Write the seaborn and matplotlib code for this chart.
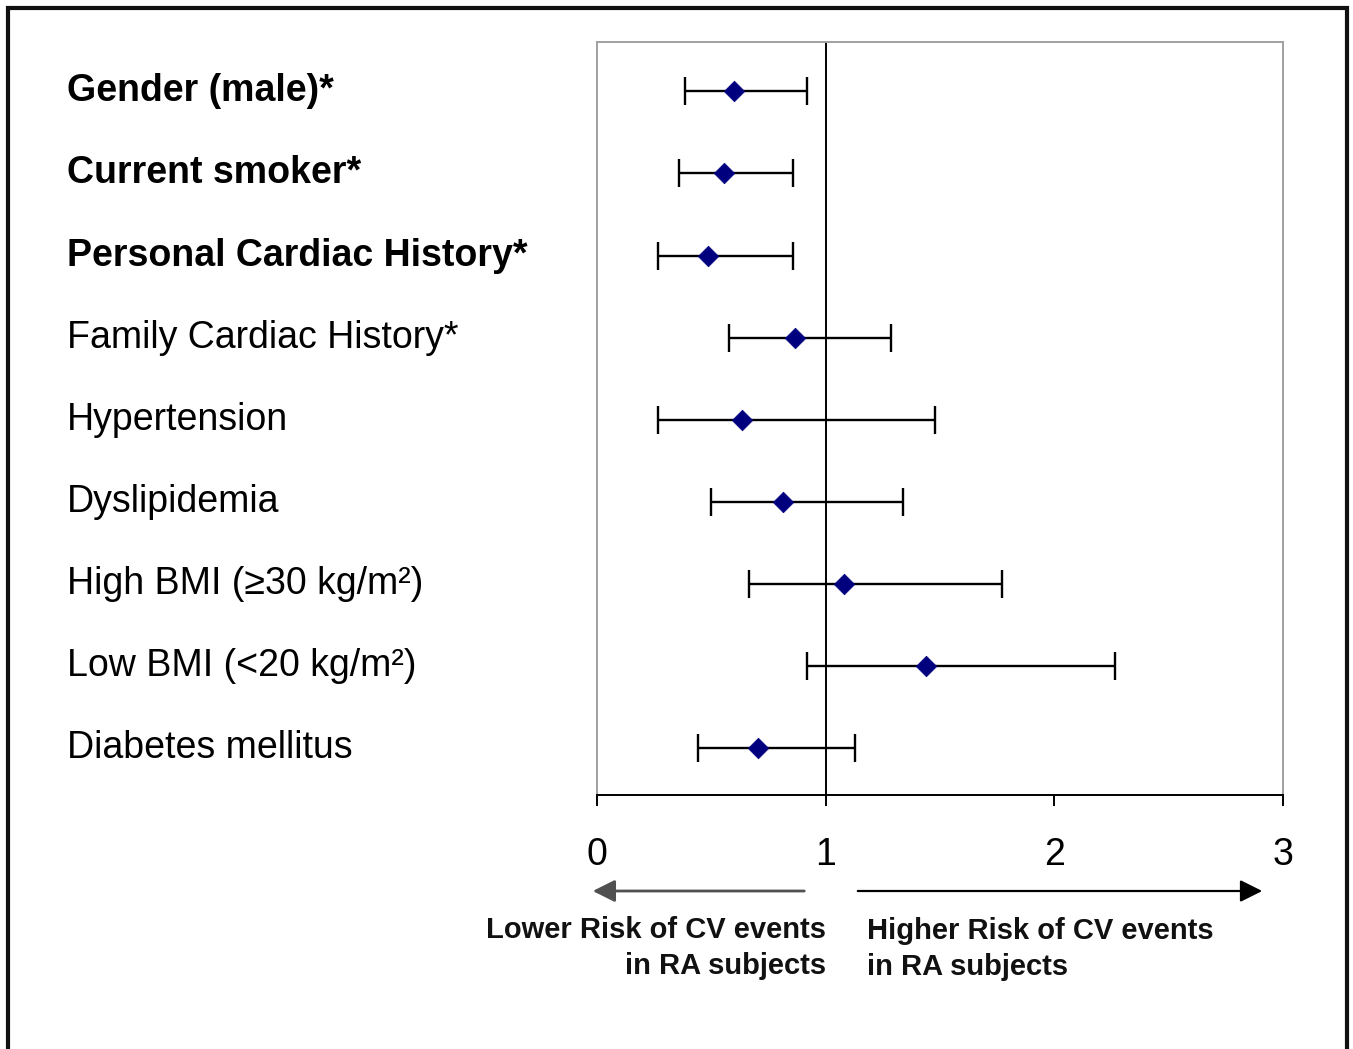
import matplotlib
matplotlib.use("Agg")
import matplotlib.pyplot as plt
import matplotlib.transforms as mtransforms
from matplotlib.patches import Rectangle, FancyArrowPatch
import seaborn as sns
import pandas as pd

# ---- data ----
factors = ["Gender (male)*", "Current smoker*", "Personal Cardiac History*",
           "Family Cardiac History*", "Hypertension", "Dyslipidemia",
           "High BMI (\u226530 kg/m\u00b2)", "Low BMI (<20 kg/m\u00b2)", "Diabetes mellitus"]
bold_flags = [True, True, True, False, False, False, False, False, False]
odds_ratio = [0.60, 0.555, 0.485, 0.866, 0.634, 0.813, 1.08, 1.44, 0.704]
ci_low = [0.385, 0.36, 0.267, 0.577, 0.267, 0.50, 0.665, 0.918, 0.44]
ci_high = [0.92, 0.857, 0.857, 1.286, 1.48, 1.34, 1.77, 2.265, 1.13]
x_ticks = [0, 1, 2, 3]
lower_lines = ["Lower Risk of CV events", "in RA subjects"]
higher_lines = ["Higher Risk of CV events", "in RA subjects"]

df = pd.DataFrame({"factor": factors, "or": odds_ratio, "lo": ci_low, "hi": ci_high})
df["row"] = range(len(df))

sns.set_theme(style="white")
plt.rcParams["font.family"] = ["Liberation Sans", "DejaVu Sans"]
plt.rcParams["text.color"] = "black"
plt.rcParams["xtick.color"] = "black"

fig = plt.figure(figsize=(13.53, 10.49), dpi=100)
ax = fig.add_axes([597/1353, 1 - 795/1049, (1283 - 597)/1353, (795 - 42)/1049])

# error bars
ax.errorbar(df["or"], df["row"],
            xerr=[df["or"] - df["lo"], df["hi"] - df["or"]],
            fmt="none", ecolor="black", elinewidth=1.7, capsize=10, capthick=1.7, zorder=2)
# points
sns.scatterplot(data=df, x="or", y="row", marker="D", color="#00007f",
                s=110, edgecolor="#00007f", linewidth=0.5, ax=ax, zorder=3, legend=False)

ax.axvline(1, color="black", lw=1.4, zorder=1)

ax.set_xlim(0, 3)
ax.set_ylim(len(df) - 1 + 0.57, -0.6)
ax.set_xticks(x_ticks)
ax.set_xticklabels([str(t) for t in x_ticks], fontsize=27, color="black")
ax.set_yticks([])
ax.set_xlabel("")
ax.set_ylabel("")
ax.tick_params(axis="x", direction="out", length=8, width=1.4, color="black", pad=22, bottom=True)

for side in ["top", "left", "right"]:
    ax.spines[side].set_color("#a0a0a0")
    ax.spines[side].set_linewidth(1.4)
ax.spines["bottom"].set_color("black")
ax.spines["bottom"].set_linewidth(1.4)

# labels
trans = mtransforms.blended_transform_factory(fig.transFigure, ax.transData)
for i, (lab, b) in enumerate(zip(factors, bold_flags)):
    ax.text(67/1353, i, lab, transform=trans, ha="left", va="center",
            fontsize=27, fontweight="bold" if b else "normal", color="black")

# arrows
def fx(px):
    return px / 1353
def fy(py):
    return 1 - py / 1049

fig.add_artist(FancyArrowPatch((fx(807), fy(891)), (fx(590), fy(891)),
                               transform=fig.transFigure, arrowstyle="-|>,head_length=9,head_width=4.5",
                               color="#505050", lw=2, mutation_scale=1.5))
fig.add_artist(FancyArrowPatch((fx(855), fy(891)), (fx(1265), fy(891)),
                               transform=fig.transFigure, arrowstyle="-|>,head_length=9,head_width=4.5",
                               color="black", lw=1.6, mutation_scale=1.5))

for k, (lt, ht) in enumerate(zip(lower_lines, higher_lines)):
    fig.text(fx(826), fy(930 + 36 * k), lt, ha="right", va="center", fontsize=21,
             fontweight="bold", color="#111111")
    fig.text(fx(867), fy(931 + 36 * k), ht, ha="left", va="center", fontsize=21,
             fontweight="bold", color="#111111")

# outer border
fig.add_artist(Rectangle((fx(8), -0.02), fx(1347) - fx(8), fy(8) + 0.02,
                         transform=fig.transFigure, fill=False, edgecolor="#111111", lw=3))

fig.savefig("out.png", dpi=100)
